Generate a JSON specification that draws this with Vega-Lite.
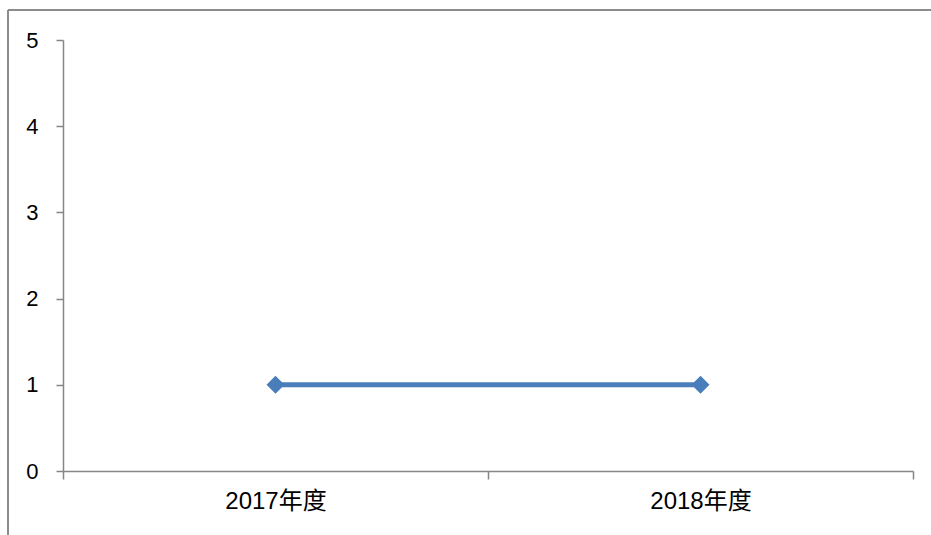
{
  "$schema": "https://vega.github.io/schema/vega-lite/v6.json",
  "width": 850,
  "height": 431,
  "autosize": {"type": "none"},
  "padding": {"left": 63, "top": 40, "right": 18, "bottom": 64},
  "background": "white",
  "config": {
    "view": {"stroke": null},
    "font": "Liberation Sans"
  },
  "data": {"values": [
    {"year": "2017年度", "value": 1},
    {"year": "2018年度", "value": 1}
  ]},
  "layer": [
    {
      "layer": [
        {
          "mark": {"type": "line", "color": "#4A7EBB", "strokeWidth": 5},
          "encoding": {
            "x": {"field": "year", "type": "nominal", "sort": null,
              "scale": {"paddingInner": 0, "paddingOuter": 0},
              "axis": {"title": null, "labelAngle": 0, "domainColor": "#868686", "domainWidth": 1.5,
                "tickColor": "#868686", "tickWidth": 1.5, "tickSize": 8, "tickBand": "extent",
                "labelFont": "Liberation Sans, Noto Sans CJK SC", "labelFontSize": 24, "labelColor": "#000000",
                "labelPadding": 10, "grid": false}},
            "y": {"field": "value", "type": "quantitative",
              "scale": {"domain": [0, 5], "nice": false, "zero": true},
              "axis": {"title": null, "values": [0, 1, 2, 3, 4, 5], "format": "d", "domainColor": "#868686", "domainWidth": 1.5,
                "tickColor": "#868686", "tickWidth": 1.5, "tickSize": 7, "grid": false,
                "labelFont": "Liberation Sans", "labelFontSize": 22, "labelColor": "#000000", "labelPadding": 18}}
          }
        },
        {
          "mark": {"type": "point", "shape": "diamond", "filled": true, "size": 324, "color": "#4A7EBB", "opacity": 1},
          "encoding": {
            "x": {"field": "year", "type": "nominal", "sort": null},
            "y": {"field": "value", "type": "quantitative"}
          }
        }
      ]
    },
    {
      "layer": [
        {
          "mark": {"type": "rule", "color": "#8c8c8c", "strokeWidth": 2, "clip": false},
          "encoding": {
            "x": {"datum": -0.1294, "type": "quantitative", "scale": {"domain": [0, 2], "nice": false, "zero": false}, "axis": null},
            "x2": {"datum": 2.3},
            "y": {"datum": 5.348, "type": "quantitative"}
          }
        },
        {
          "mark": {"type": "rule", "color": "#8c8c8c", "strokeWidth": 2, "clip": false},
          "encoding": {
            "x": {"datum": -0.1294, "type": "quantitative", "scale": {"domain": [0, 2], "nice": false, "zero": false}, "axis": null},
            "y": {"datum": 5.348, "type": "quantitative"},
            "y2": {"datum": -1}
          }
        }
      ]
    }
  ],
  "resolve": {"scale": {"x": "independent"}}
}
